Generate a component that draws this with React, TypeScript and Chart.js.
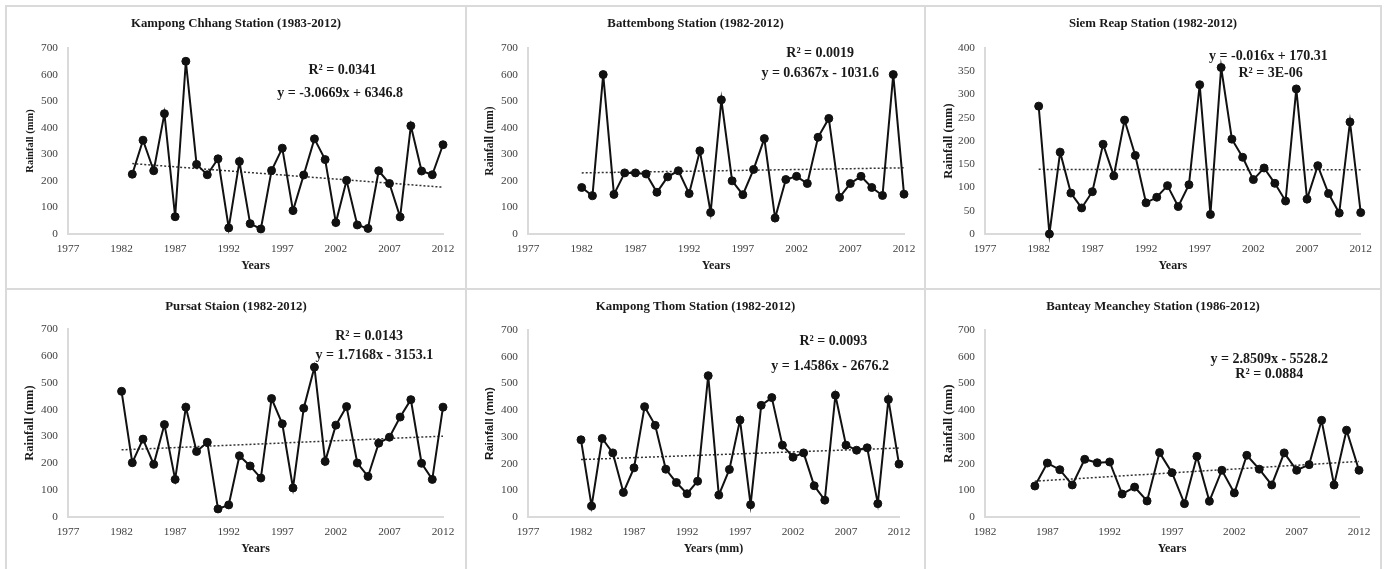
import React, { useEffect, useRef } from "react";
import { Chart, registerables } from "chart.js";

Chart.register(...registerables);

// ---------- DATA ----------
const kcYears = [1983, 1984, 1985, 1986, 1987, 1988, 1989, 1990, 1991, 1992, 1993, 1994, 1995, 1996, 1997, 1998, 1999, 2000, 2001, 2002, 2003, 2004, 2005, 2006, 2007, 2008, 2009, 2010, 2011, 2012];
const kcRain = [225, 353, 238, 453, 65, 650, 262, 223, 283, 23, 273, 39, 19, 239, 323, 88, 222, 358, 280, 43, 202, 34, 21, 238, 190, 64, 407, 237, 223, 336];
const kcTrend = [265, 176];

const fullYears = [1982, 1983, 1984, 1985, 1986, 1987, 1988, 1989, 1990, 1991, 1992, 1993, 1994, 1995, 1996, 1997, 1998, 1999, 2000, 2001, 2002, 2003, 2004, 2005, 2006, 2007, 2008, 2009, 2010, 2011, 2012];

const btRain = [175, 144, 600, 149, 230, 230, 226, 157, 215, 238, 152, 313, 81, 505, 200, 148, 243, 359, 60, 205, 217, 190, 364, 435, 138, 190, 217, 175, 145, 600, 150];
const btTrend = [230, 249];

const srRain = [275, 0, 176, 88, 56, 91, 193, 125, 245, 169, 67, 79, 104, 59, 106, 321, 42, 358, 204, 165, 117, 142, 109, 71, 312, 75, 147, 87, 45, 241, 46];
const srTrend = [139, 138];

const psRain = [468, 202, 290, 196, 344, 140, 409, 244, 278, 30, 45, 228, 190, 145, 441, 347, 108, 405, 558, 207, 342, 411, 201, 151, 275, 297, 372, 437, 200, 140, 409];
const psTrend = [250, 301];

const ktRain = [289, 41, 294, 240, 92, 184, 413, 343, 179, 129, 87, 134, 529, 82, 178, 363, 46, 418, 447, 269, 224, 240, 117, 63, 456, 269, 250, 259, 50, 440, 198];
const ktTrend = [215, 258];

const bmYears = [1986, 1987, 1988, 1989, 1990, 1991, 1992, 1993, 1994, 1995, 1996, 1997, 1998, 1999, 2000, 2001, 2002, 2003, 2004, 2005, 2006, 2007, 2008, 2009, 2010, 2011, 2012];
const bmRain = [116, 202, 177, 120, 216, 203, 206, 86, 112, 60, 241, 166, 50, 227, 59, 175, 90, 231, 179, 120, 240, 175, 196, 362, 120, 325, 175];
const bmTrend = [134, 208];

const titles = [
  "Kampong Chhang Station (1983-2012)",
  "Battembong Station (1982-2012)",
  "Siem Reap Station (1982-2012)",
  "Pursat Staion (1982-2012)",
  "Kampong Thom Station (1982-2012)",
  "Banteay Meanchey Station (1986-2012)",
];
const xTitles = ["Years", "Years", "Years", "Years", "Years (mm)", "Years"];
const yTitle = "Rainfall (mm)";
const annotations = [
  ["R² = 0.0341", "y = -3.0669x + 6346.8"],
  ["R² = 0.0019", "y = 0.6367x - 1031.6"],
  ["y = -0.016x + 170.31", "R² = 3E-06"],
  ["R² = 0.0143", "y = 1.7168x - 3153.1"],
  ["R² = 0.0093", "y = 1.4586x - 2676.2"],
  ["y = 2.8509x - 5528.2", "R² = 0.0884"],
];

// ---------- LAYOUT / STYLE ----------
const SERIF = "'Liberation Serif', 'Times New Roman', serif";
const SANS = "'Liberation Sans', Arial, sans-serif";
const GRID = "#dadada";
const colLeft = [7, 467, 926];
const colWidth = [458, 457, 454];
const rowTop = [7, 290];
const rowHeight = [281, 279];

type PanelCfg = {
  title: string;
  xTitle: string;
  years: number[];
  rain: number[];
  trend: number[];
  xMin: number;
  yMax: number;
  yStep: number;
  col: number;
  row: number;
  area: { L: number; R: number; T: number; B: number };
  yTitleSize: number;
  yTitleFamily: string;
  notes: string[];
  notePos: number[][];
};

const panels: PanelCfg[] = [
  { title: titles[0], xTitle: xTitles[0], years: kcYears, rain: kcRain, trend: kcTrend, xMin: 1977, yMax: 700, yStep: 100, col: 0, row: 0, area: { L: 68, R: 443, T: 48, B: 234 }, yTitleSize: 10.5, yTitleFamily: SERIF, notes: annotations[0], notePos: [[2002.6, 617], [2002.4, 530]] },
  { title: titles[1], xTitle: xTitles[1], years: fullYears, rain: btRain, trend: btTrend, xMin: 1977, yMax: 700, yStep: 100, col: 1, row: 0, area: { L: 528, R: 904, T: 48, B: 234 }, yTitleSize: 11.5, yTitleFamily: SERIF, notes: annotations[1], notePos: [[2004.2, 681], [2004.2, 606]] },
  { title: titles[2], xTitle: xTitles[2], years: fullYears, rain: srRain, trend: srTrend, xMin: 1977, yMax: 400, yStep: 50, col: 2, row: 0, area: { L: 985, R: 1365, T: 48, B: 234 }, yTitleSize: 12.5, yTitleFamily: SERIF, notes: annotations[2], notePos: [[2003.4, 381], [2003.6, 346]] },
  { title: titles[3], xTitle: xTitles[3], years: fullYears, rain: psRain, trend: psTrend, xMin: 1977, yMax: 700, yStep: 100, col: 0, row: 1, area: { L: 68, R: 443, T: 329, B: 517 }, yTitleSize: 12.5, yTitleFamily: SERIF, notes: annotations[3], notePos: [[2005.1, 674], [2005.6, 600]] },
  { title: titles[4], xTitle: xTitles[4], years: fullYears, rain: ktRain, trend: ktTrend, xMin: 1977, yMax: 700, yStep: 100, col: 1, row: 1, area: { L: 528, R: 899, T: 330, B: 517 }, yTitleSize: 11.5, yTitleFamily: SANS, notes: annotations[4], notePos: [[2005.8, 658], [2005.5, 565]] },
  { title: titles[5], xTitle: xTitles[5], years: bmYears, rain: bmRain, trend: bmTrend, xMin: 1982, yMax: 700, yStep: 100, col: 2, row: 1, area: { L: 985, R: 1359, T: 330, B: 517 }, yTitleSize: 13, yTitleFamily: SERIF, notes: annotations[5], notePos: [[2004.8, 589], [2004.8, 533]] },
];

function Panel({ cfg }: { cfg: PanelCfg }) {
  const ref = useRef<HTMLCanvasElement>(null);
  const left = colLeft[cfg.col];
  const top = rowTop[cfg.row];
  const width = colWidth[cfg.col];
  const height = rowHeight[cfg.row];

  useEffect(() => {
    const canvas = ref.current;
    if (!canvas) return;
    const { L, R, T, B } = cfg.area;
    const xTitleCenterFromBottom = cfg.row === 0 ? 22 : 20;
    const yTitleLine = cfg.yTitleSize * 1.2;

    const textPlugin = {
      id: "panelText",
      afterDraw(chart: any) {
        const ctx = chart.ctx;
        const xs = chart.scales.x;
        const ys = chart.scales.y;
        ctx.save();
        ctx.fillStyle = "#1a1a1a";
        ctx.textAlign = "center";
        ctx.textBaseline = "middle";
        ctx.font = `bold 12.8px ${SERIF}`;
        ctx.fillText(cfg.title, chart.width / 2, 17);
        ctx.font = `bold 14px ${SERIF}`;
        cfg.notes.forEach((t, i) => {
          const [vx, vy] = cfg.notePos[i];
          ctx.fillText(t, xs.getPixelForValue(vx), ys.getPixelForValue(vy));
        });
        ctx.restore();
      },
    };

    const tickFont = { family: SERIF, size: 11.3 };
    const chart = new Chart(canvas, {
      type: "scatter",
      data: {
        datasets: [
          {
            data: cfg.years.map((x, i) => ({ x, y: cfg.rain[i] })),
            showLine: true,
            clip: false,
            borderColor: "#111",
            borderWidth: 2,
            pointRadius: 4,
            pointBackgroundColor: "#111",
            pointBorderColor: "#111",
            pointBorderWidth: 1,
          },
          {
            data: [
              { x: cfg.years[0], y: cfg.trend[0] },
              { x: cfg.years[cfg.years.length - 1], y: cfg.trend[1] },
            ],
            showLine: true,
            clip: false,
            borderColor: "#333",
            borderWidth: 1.5,
            borderDash: [2, 2],
            pointRadius: 0,
          },
        ],
      },
      options: {
        responsive: false,
        animation: false,
        events: [],
        layout: {
          padding: { left: 0, top: T - top, right: left + width - R, bottom: 0 },
        },
        plugins: {
          legend: { display: false },
          tooltip: { enabled: false },
          title: { display: false },
        },
        scales: {
          x: {
            type: "linear",
            min: cfg.xMin,
            max: 2012,
            ticks: {
              stepSize: 5,
              padding: 8,
              font: tickFont,
              color: "#404040",
              maxRotation: 0,
              autoSkip: false,
              callback: (v: any) => String(v),
            },
            grid: { display: false, drawTicks: false },
            border: { display: true, color: GRID, width: 2 },
            title: {
              display: true,
              text: cfg.xTitle,
              color: "#1a1a1a",
              font: { family: SERIF, size: 12, weight: "bold" },
              padding: { top: 0, bottom: xTitleCenterFromBottom - 7.2 },
            },
            afterFit: (s: any) => {
              s.height = top + height - B;
            },
          },
          y: {
            type: "linear",
            min: 0,
            max: cfg.yMax,
            ticks: {
              stepSize: cfg.yStep,
              padding: 10,
              font: tickFont,
              color: "#404040",
              callback: (v: any) => String(v),
            },
            grid: { display: false, drawTicks: false },
            border: { display: true, color: GRID, width: 2 },
            title: {
              display: true,
              text: yTitle,
              color: "#1a1a1a",
              font: { family: cfg.yTitleFamily, size: cfg.yTitleSize, weight: "bold" },
              padding: { top: 23 - yTitleLine / 2, bottom: 0 },
            },
            afterFit: (s: any) => {
              s.width = L - left;
            },
          },
        },
      } as any,
      plugins: [textPlugin],
    });
    return () => chart.destroy();
  }, [cfg]);

  return (
    <canvas
      ref={ref}
      width={width}
      height={height}
      style={{ position: "absolute", left, top, width, height }}
    />
  );
}

export default function App() {
  const vLines = [5, 465, 924, 1380];
  const hLines = [5, 288];
  return (
    <div
      style={{
        position: "fixed",
        left: 0,
        top: 0,
        width: 1384,
        height: 569,
        background: "#fff",
        overflow: "hidden",
      }}
    >
      {vLines.map((x) => (
        <div key={"v" + x} style={{ position: "absolute", left: x, top: 5, width: 2, height: 600, background: GRID }} />
      ))}
      {hLines.map((y) => (
        <div key={"h" + y} style={{ position: "absolute", left: 5, top: y, width: 1377, height: 2, background: GRID }} />
      ))}
      {panels.map((p, i) => (
        <Panel key={i} cfg={p} />
      ))}
    </div>
  );
}
